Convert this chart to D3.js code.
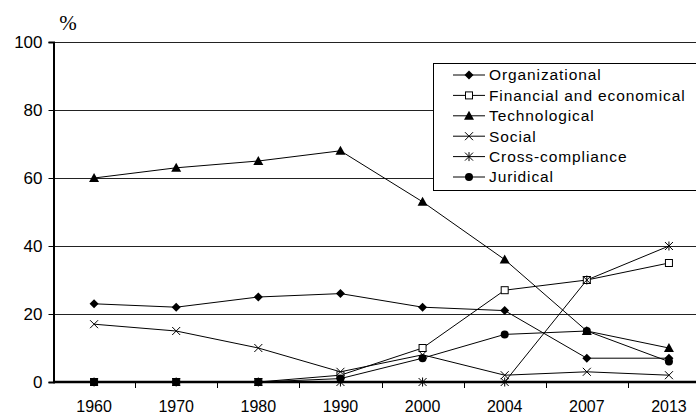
<!DOCTYPE html>
<html><head><meta charset="utf-8">
<script src="https://cdn.jsdelivr.net/npm/d3@7"></script>
<style>body{margin:0;background:#fff}svg{display:block}svg text{font-family:"Liberation Sans",Arial,Helvetica,sans-serif}svg text.pct{font-family:"Liberation Serif","Times New Roman",serif}</style>
</head><body><svg id="c" width="696" height="415"></svg>
<script>
const years = ["1960","1970","1980","1990","2000","2004","2007","2013"];
const yTicks = [0,20,40,60,80,100];
const seriesNames = ["Organizational","Financial and economical","Technological","Social","Cross-compliance","Juridical"];
const organizational = [23,22,25,26,22,21,7,7];
const financial = [0,0,0,2,10,27,30,35];
const technological = [60,63,65,68,53,36,15,10];
const social = [17,15,10,3,8,2,3,2];
const crossCompliance = [0,0,0,0,0,0,30,40];
const juridical = [0,0,0,1,7,14,15,6];
const markers = ["diamond","square","triangle","x","asterisk","circle"];
const data = [organizational,financial,technological,social,crossCompliance,juridical];

const svg = d3.select("#c");
const x = d3.scaleBand().domain(years).range([53,710]);
const y = d3.scaleLinear().domain([0,100]).range([382,42]);
const xc = d => x(d)+x.bandwidth()/2;

// gridlines
svg.append("g").selectAll("line").data(yTicks.filter(t=>t>0)).join("line")
  .attr("x1",53).attr("x2",696).attr("y1",d=>y(d)+0.5).attr("y2",d=>y(d)+0.5)
  .attr("stroke","#222").attr("stroke-width",1);

// y axis
const ya = svg.append("g").attr("transform","translate(53.5,0)")
  .call(d3.axisLeft(y).tickValues(yTicks).tickSize(5).tickPadding(6));
ya.attr("font-family",null);
ya.select(".domain").attr("stroke","#000").attr("stroke-width",2);
ya.selectAll("text").attr("font-size",17).attr("fill","#000").attr("dy","0.35em");
ya.selectAll(".tick line").attr("stroke","#000");

// x axis
const xa = svg.append("g").attr("transform","translate(0,382)");
xa.append("line").attr("x1",53).attr("x2",696).attr("y1",0).attr("y2",0).attr("stroke","#000").attr("stroke-width",2.5);
xa.selectAll("line.tk").data(years.slice(1)).join("line").attr("class","tk")
  .attr("x1",d=>Math.round(x(d))+0.5).attr("x2",d=>Math.round(x(d))+0.5).attr("y1",0).attr("y2",6).attr("stroke","#000");
xa.selectAll("text").data(years).join("text")
  .attr("x",d=>xc(d)).attr("y",30).attr("text-anchor","middle").attr("font-size",16).text(d=>d);

svg.append("text").attr("class","pct").attr("x",68).attr("y",30).attr("text-anchor","middle")
  .attr("font-size",21).text("%");

function drawMarker(g, type, cx, cy){
  const s = 4.5;
  if(type==="diamond") g.append("path").attr("d",`M${cx},${cy-s}L${cx+s},${cy}L${cx},${cy+s}L${cx-s},${cy}Z`).attr("fill","#000");
  else if(type==="square") g.append("rect").attr("x",cx-3.5).attr("y",cy-3.5).attr("width",7).attr("height",7).attr("fill","#fff").attr("stroke","#000").attr("stroke-width",1);
  else if(type==="triangle") g.append("path").attr("d",`M${cx},${cy-5}L${cx+5},${cy+4}L${cx-5},${cy+4}Z`).attr("fill","#000");
  else if(type==="circle") g.append("circle").attr("cx",cx).attr("cy",cy).attr("r",4).attr("fill","#000");
  else if(type==="x") g.append("path").attr("d",`M${cx-4},${cy-4}L${cx+4},${cy+4}M${cx-4},${cy+4}L${cx+4},${cy-4}`).attr("stroke","#000").attr("stroke-width",1);
  else if(type==="asterisk") g.append("path").attr("d",`M${cx-4},${cy-4}L${cx+4},${cy+4}M${cx-4},${cy+4}L${cx+4},${cy-4}M${cx},${cy-4.5}L${cx},${cy+4.5}`).attr("stroke","#000").attr("stroke-width",1);
}

const line = d3.line().x((d,i)=>xc(years[i])).y(d=>y(d));
data.forEach((vals,k)=>{
  svg.append("path").attr("d",line(vals)).attr("fill","none").attr("stroke","#000").attr("stroke-width",1);
});
data.forEach((vals,k)=>{
  const g = svg.append("g");
  vals.forEach((v,i)=>drawMarker(g, markers[k], xc(years[i]), y(v)));
});

// legend
const lg = svg.append("g");
lg.append("rect").attr("x",433.5).attr("y",63.5).attr("width",280).attr("height",127).attr("fill","#fff").attr("stroke","#000").attr("stroke-width",1);
seriesNames.forEach((n,i)=>{
  const yy = 75 + i*20.4;
  lg.append("line").attr("x1",453).attr("x2",485).attr("y1",yy).attr("y2",yy).attr("stroke","#000");
  drawMarker(lg, markers[i], 469, yy);
  lg.append("text").attr("x",489).attr("y",yy).attr("dy","0.35em").attr("font-size",15.5).attr("letter-spacing",0.9).text(n);
});
</script></body></html>
